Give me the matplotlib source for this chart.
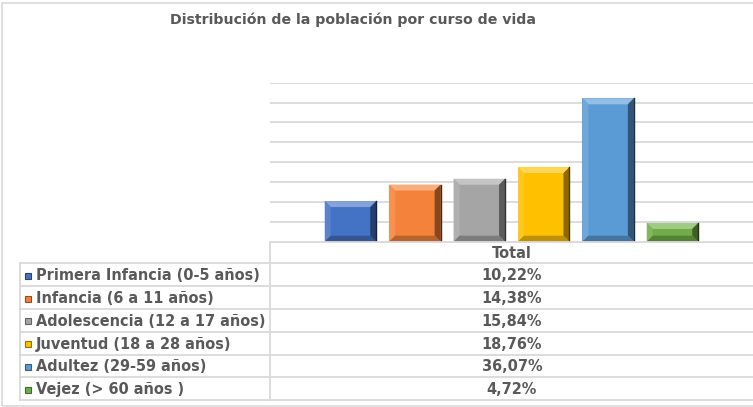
import matplotlib
matplotlib.use("Agg")
import matplotlib.pyplot as plt
from matplotlib.patches import Rectangle, Polygon
from matplotlib.lines import Line2D
import matplotlib.colors as mcolors
import numpy as np

title = "Distribución de la población por curso de vida"
categories = ["Primera Infancia (0-5 años)", "Infancia (6 a 11 años)",
              "Adolescencia (12 a 17 años)", "Juventud (18 a 28 años)",
              "Adultez (29-59 años)", "Vejez (> 60 años )"]
values = [10.22, 14.38, 15.84, 18.76, 36.07, 4.72]
colors = ["#4472C4", "#F5823A", "#A5A5A5", "#FFC000", "#5B9BD5", "#70AD47"]
header = "Total"

W, H = 753, 407
fig = plt.figure(figsize=(W / 100, H / 100), dpi=100)
TXT = "#595959"
GRID = "#D9D9D9"

def fx(px):
    return px / W

def fy(py):
    return 1 - py / H

ax_l, ax_r, ax_t, ax_b = 270, 753, 82.7, 241.7
ax = fig.add_axes([fx(ax_l), fy(ax_b), fx(ax_r - ax_l), (ax_b - ax_t) / H])
ax.set_xlim(0, 1)
ax.set_ylim(0, 40)
for s in ax.spines.values():
    s.set_visible(False)
ax.set_xticks([])
ax.set_yticks(np.arange(5, 41, 5))
ax.tick_params(left=False, labelleft=False)
ax.yaxis.grid(True, color=GRID, lw=1.3)
ax.set_axisbelow(True)

def mix(c, t, amt):
    c = np.array(mcolors.to_rgb(c))
    t = np.array(mcolors.to_rgb(t))
    return tuple(c * (1 - amt) + t * amt)

n = len(values)
step = 64.4 / (ax_r - ax_l)
width = 51.5 / (ax_r - ax_l)
xs = 0.5 + (np.arange(n) - (n - 1) / 2) * step
bx = 6 / (ax_r - ax_l)
by = 6 * 40 / (ax_b - ax_t)
for x, v, c in zip(xs, values, colors):
    x0, x1 = x - width / 2, x + width / 2
    ax.bar(x, v, width=width, color=c, zorder=2)
    b = min(by, v / 2.5)
    ax.add_patch(Polygon([(x0, v), (x1, v), (x1 - bx, v - b), (x0 + bx, v - b)],
                         closed=True, fc=mix(c, "white", 0.35), ec="none", zorder=3))
    ax.add_patch(Polygon([(x0, v), (x0 + bx, v - b), (x0 + bx, b), (x0, 0)],
                         closed=True, fc=mix(c, "white", 0.12), ec="none", zorder=3))
    ax.add_patch(Polygon([(x1, v), (x1 - bx, v - b), (x1 - bx, b), (x1, 0)],
                         closed=True, fc=mix(c, "black", 0.45), ec="none", zorder=3))
    ax.add_patch(Polygon([(x0, 0), (x0 + bx, b), (x1 - bx, b), (x1, 0)],
                         closed=True, fc=mix(c, "black", 0.25), ec="none", zorder=3))
    ax.plot([x1, x1], [0, v], color=mix(c, "black", 0.7), lw=1.0, zorder=4)

# Title
fig.text(fx(352.5), fy(19.5), title, ha="center", va="center", fontsize=10.2,
         fontweight="bold", color=TXT, family="DejaVu Sans")

# Chart border
fig.add_artist(Rectangle((fx(1.5), fy(406)), fx(760), 403 / H, transform=fig.transFigure,
                         fill=False, ec=GRID, lw=1.2))

# Data table
tab_l = 20
row_top = 263.3
row_h = 22.8
lw = 1.3
fig.add_artist(Line2D([fx(ax_l), fx(W)], [fy(ax_b), fy(ax_b)], color=GRID, lw=lw))
fig.add_artist(Line2D([fx(ax_l), fx(ax_l)], [fy(ax_b), fy(row_top + n * row_h)], color=GRID, lw=lw))
fig.add_artist(Line2D([fx(tab_l), fx(tab_l)], [fy(row_top), fy(row_top + n * row_h)], color=GRID, lw=lw))
for i in range(n + 1):
    y = row_top + i * row_h
    fig.add_artist(Line2D([fx(tab_l), fx(W)], [fy(y), fy(y)], color=GRID, lw=lw))

FS = 10.45
fig.text(fx(512), fy((ax_b + row_top) / 2 + 1), header, ha="center",
         va="center", fontsize=FS, fontweight="bold", color=TXT)

for i, (lab, v, c) in enumerate(zip(categories, values, colors)):
    yc = row_top + (i + 0.5) * row_h
    ks = 6
    fig.add_artist(Rectangle((fx(25), fy(yc + ks / 2 + 1)), fx(ks), ks / H,
                             transform=fig.transFigure, fc=c,
                             ec=mix(c, "black", 0.4), lw=0.8))
    fig.text(fx(35.5), fy(yc + 1), lab, ha="left", va="center", fontsize=FS,
             fontweight="bold", color=TXT)
    fig.text(fx(512), fy(yc + 1), f"{v:.2f}%".replace(".", ","),
             ha="center", va="center", fontsize=FS, fontweight="bold", color=TXT)

fig.savefig("out.png", dpi=100)
